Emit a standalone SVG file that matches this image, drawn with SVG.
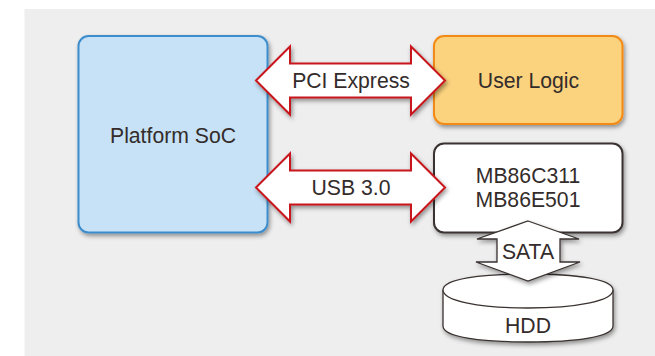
<svg xmlns="http://www.w3.org/2000/svg" width="655" height="356" viewBox="0 0 655 356">
<defs>
<filter id="sh" x="-15%" y="-15%" width="130%" height="130%"><feDropShadow dx="1.5" dy="2.5" stdDeviation="2" flood-color="#000" flood-opacity="0.4"/></filter>
</defs>
<style>
text{font-family:"Liberation Sans",Arial,sans-serif;font-size:21.2px;fill:#332c2b;text-anchor:middle}
.box{stroke-width:2;filter:url(#sh)}
.red{fill:#fff;stroke:#c8161e;stroke-width:2;stroke-linejoin:miter;filter:url(#sh)}
.blk{fill:#fff;stroke:#3a3230;stroke-width:1.3}
</style>
<rect x="24.500" y="9" width="631" height="347" fill="#eeeeee"/>
<g id="soc"><rect class="box" x="78.500" y="36" width="189" height="196.500" rx="10" fill="#c7e2f6" stroke="#3d8ccb"/><text x="173" y="142.500">Platform SoC</text></g>
<g id="userlogic"><rect class="box" x="434" y="36" width="188.500" height="88" rx="10" fill="#fbd27e" stroke="#f38a14"/><text x="528.500" y="88">User Logic</text></g>
<g id="mb"><rect class="box" x="434" y="143.500" width="188.500" height="89" rx="10" fill="#fff" stroke="#3a3230"/><text x="528" y="183">MB86C311</text><text x="528" y="207">MB86E501</text></g>
<g id="hdd"><path class="blk" style="filter:url(#sh)" d="M443 290C443 279 480 274 528 274S613 279 613 290V326C613 337 576 342 528 342S443 337 443 326Z"/><path class="blk" fill="none" d="M443 290C443 301 480 308 528 308S613 301 613 290"/><text x="528" y="333">HDD</text></g>
<g id="connectors">
<g id="pcie"><path class="red" d="M256 80.500L290 46.500V63.500H411V46.500L445 80.500L411 114.500V97.500H290V114.500Z"/><text x="351" y="88">PCI Express</text></g>
<g id="usb"><path class="red" d="M256 187.500L290 153.500V170.500H411V153.500L445 187.500L411 221.500V204.500H290V221.500Z"/><text x="351" y="195">USB 3.0</text></g>
<g id="sata"><path class="blk" style="filter:url(#sh)" d="M528 221L579 239H560V262H580L528 281L476 262H497V239H477Z"/><text x="528" y="259">SATA</text></g>
</g>
</svg>
